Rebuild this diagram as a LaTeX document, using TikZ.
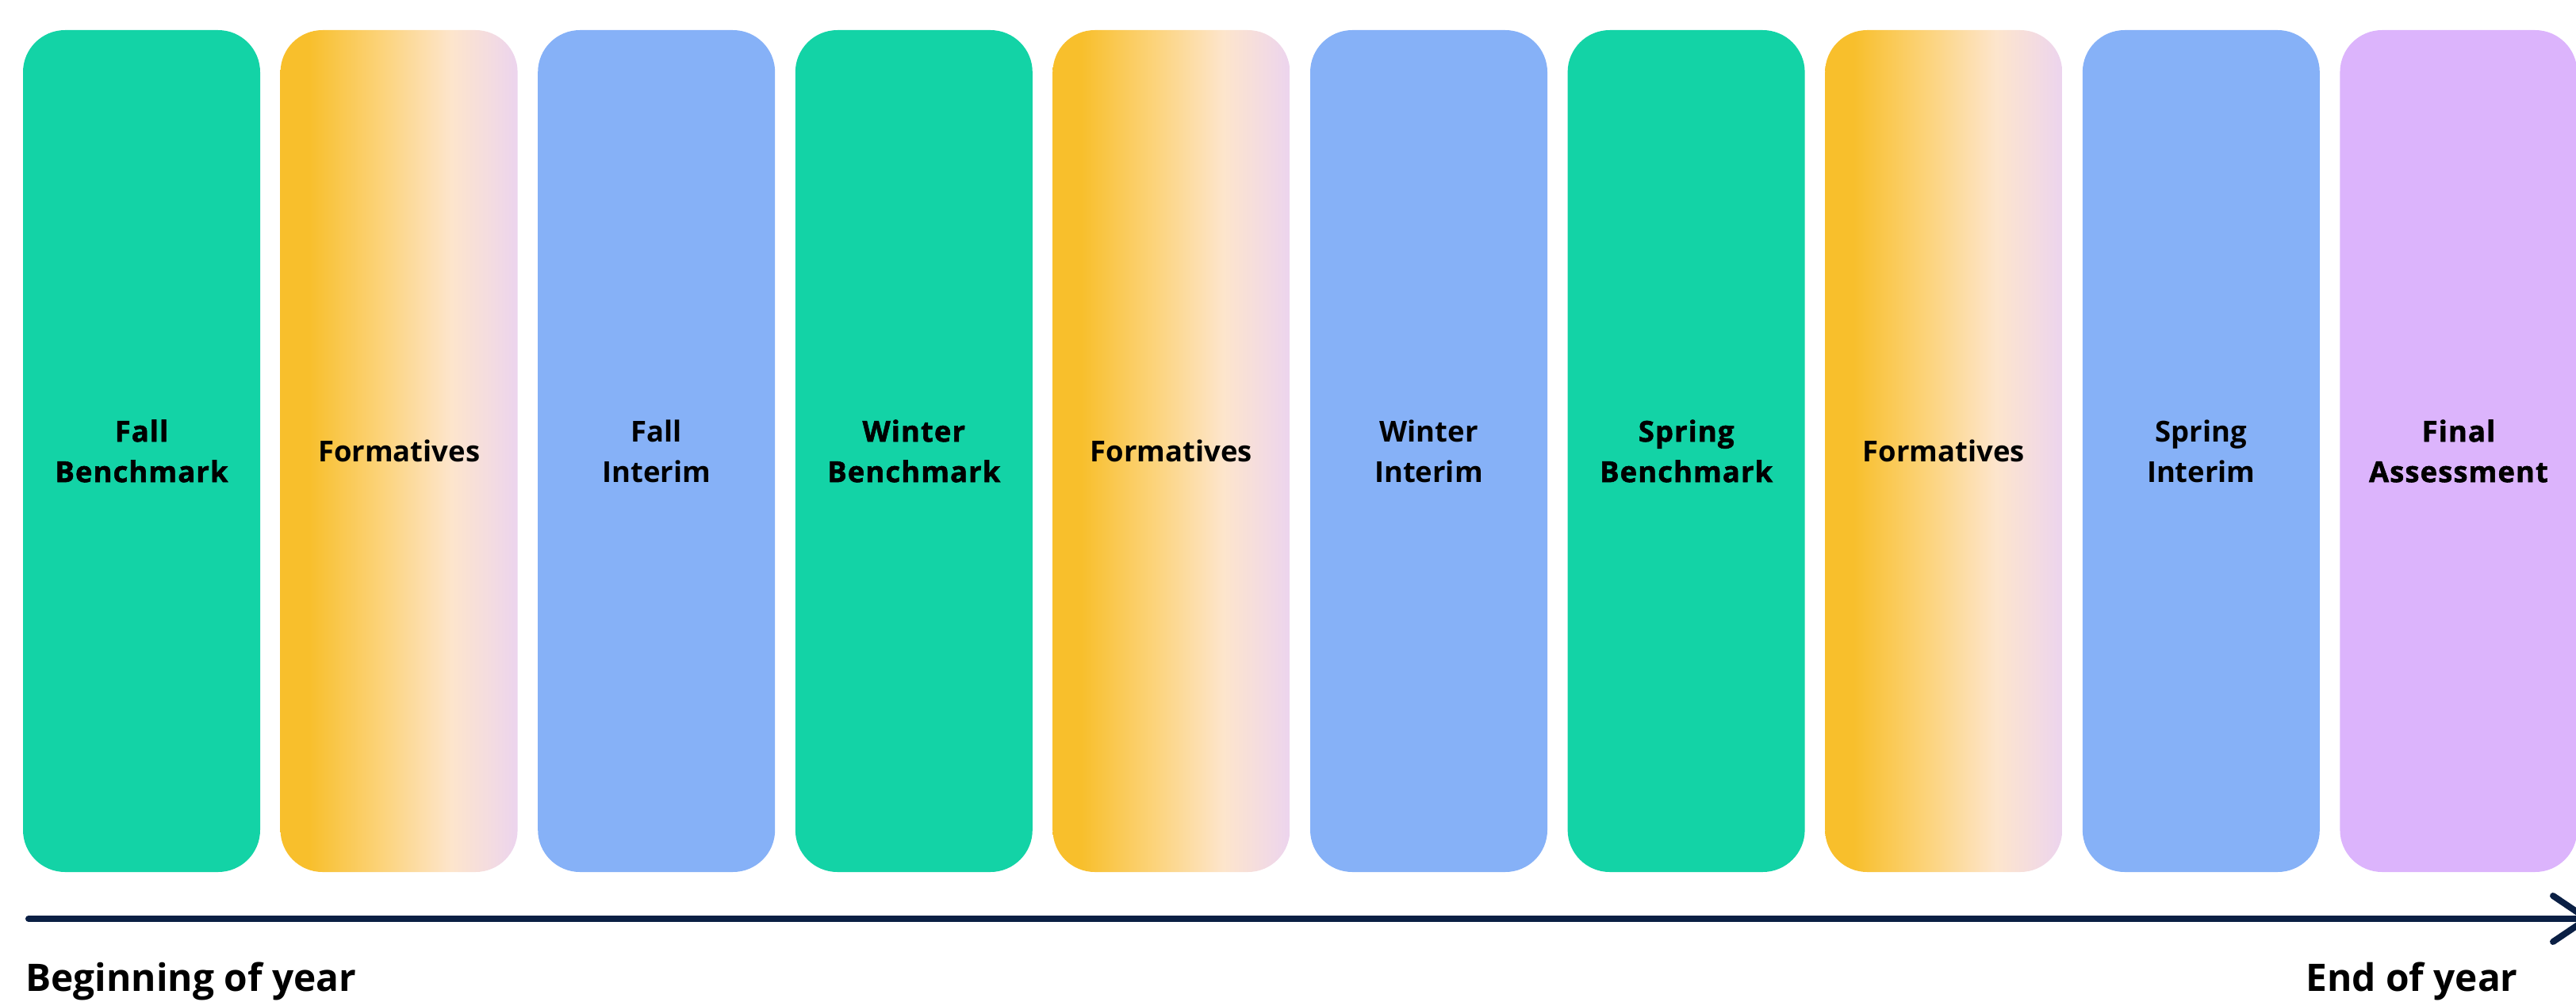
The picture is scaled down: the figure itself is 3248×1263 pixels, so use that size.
\documentclass[tikz,border=0pt]{standalone}
\usepackage{fontspec}
\setmainfont{Open Sans}
\newfontfamily\heavyfont{Open Sans}[BoldFeatures={FakeBold=1.5, LetterSpace=3}]
\usetikzlibrary{arrows.meta}
\definecolor{bmgreen}{HTML}{13D3A6}
\definecolor{intblue}{HTML}{86B1F7}
\definecolor{finpurple}{HTML}{DCB4FC}
\definecolor{navy}{HTML}{0A1F44}
\definecolor{gorange}{HTML}{F8BF2C}
\definecolor{gmid}{HTML}{FCD47E}
\definecolor{gpeach}{HTML}{FDE5CC}
\definecolor{gpink}{HTML}{F4DCE0}
\definecolor{glav}{HTML}{ECD4EE}
\pgfdeclarehorizontalshading{formgrad}{100bp}{color(0bp)=(gorange); color(31bp)=(gorange); color(47bp)=(gmid); color(61bp)=(gpeach); color(69bp)=(gpink); color(75bp)=(glav); color(100bp)=(glav)}
\tikzset{
  stagebox/.style={rectangle, rounded corners=26.5pt, minimum width=149.5pt, minimum height=531pt, inner sep=0pt, align=center},
  heavylabel/.style={font=\heavyfont\bfseries\fontsize{18.2}{25.5}\selectfont},
  semilabel/.style={font=\bfseries\fontsize{18.2}{25.5}\selectfont},
  benchmark/.style={stagebox, fill=bmgreen, heavylabel},
  formative/.style={stagebox, shade, shading=formgrad, semilabel},
  interim/.style={stagebox, fill=intblue, semilabel},
  finalbox/.style={stagebox, fill=finpurple, heavylabel},
  endlabel/.style={font=\bfseries\fontsize{23.9}{30}\selectfont, inner sep=0pt},
  timeline/.style={navy, line width=4pt, line cap=round, -{Straight Barb[round, length=21.5pt, width=29pt]}}
}
\begin{document}
\begin{tikzpicture}[x=0.5pt, y=-0.5pt]
\useasboundingbox (0,0) rectangle (3248,1263);
\clip (0,0) rectangle (3248,1263);
\node[benchmark] (b1) at (178.5,569) {Fall\\Benchmark};
\node[formative] (b2) at (503.1,569) {Formatives};
\node[interim] (b3) at (827.7,569) {Fall\\Interim};
\node[benchmark] (b4) at (1152.3,569) {Winter\\Benchmark};
\node[formative] (b5) at (1476.9,569) {Formatives};
\node[interim] (b6) at (1801.5,569) {Winter\\Interim};
\node[benchmark] (b7) at (2126.1,569) {Spring\\Benchmark};
\node[formative] (b8) at (2450.7,569) {Formatives};
\node[interim] (b9) at (2775.3,569) {Spring\\Interim};
\node[finalbox] (b10) at (3099.9,569) {Final\\Assessment};
\coordinate (tstart) at (36,1159);
\coordinate (tend) at (3266,1159);
\draw[timeline] (tstart) -- (tend);
\node[endlabel, anchor=base west] (beg) at (32,1250) {Beginning of year};
\node[endlabel, anchor=base east] (eoy) at (3175,1250) {End of year};
\end{tikzpicture}
\end{document}
